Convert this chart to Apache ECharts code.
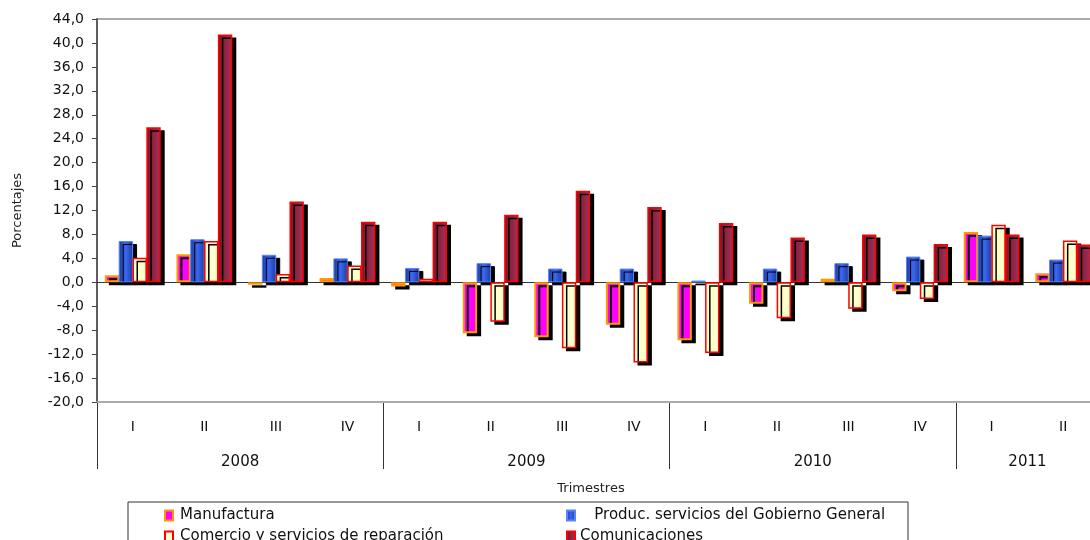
<!DOCTYPE html>
<html>
<head>
<meta charset="utf-8">
<script src="https://cdn.jsdelivr.net/npm/echarts@6/dist/echarts.min.js"></script>
<style>
  html, body { margin: 0; padding: 0; background: #fff; }
  #chart { width: 1090px; height: 540px; }
</style>
</head>
<body>
<div id="chart"></div>
<script>
// trimestres y años
const quarters = ['I', 'II', 'III', 'IV', 'I', 'II', 'III', 'IV', 'I', 'II', 'III', 'IV', 'I', 'II'];
const years = ['2008', '2009', '2010', '2011'];
const yearCenters = [2, 6, 10, 13];
const yearBounds = [0, 4, 8, 12];

// variaciones (%)
const manufactura = [1.2, 4.7, -0.4, 0.7, -0.7, -8.5, -9.2, -7.1, -9.7, -3.6, 0.6, -1.5, 8.4, 1.5];
const gobierno = [6.9, 7.2, 4.6, 4.0, 2.4, 3.2, 2.3, 2.3, 0.3, 2.3, 3.2, 4.3, 7.8, 3.8];
const comercio = [4.1, 6.9, 1.4, 2.8, 0.6, -6.6, -11.0, -13.4, -11.8, -6.0, -4.4, -2.8, 9.6, 7.0];
const comunicaciones = [25.9, 41.4, 13.5, 10.1, 10.1, 11.3, 15.3, 12.6, 9.9, 7.5, 8.0, 6.4, 8.0, 6.3];

const names = ['Manufactura', '   Produc. servicios del Gobierno General', 'Comercio y servicios de reparación', 'Comunicaciones'];

const FONT = 'DejaVu Sans';
const shadow = { shadowColor: '#000', shadowOffsetX: 4, shadowOffsetY: 3, shadowBlur: 0 };
const noShadow = { shadowBlur: 0, shadowOffsetX: 0, shadowOffsetY: 0, shadowColor: 'rgba(0,0,0,0)' };

const chart = echarts.init(document.getElementById('chart'));
chart.setOption({
  animation: false,
  backgroundColor: '#fff',
  textStyle: { fontFamily: FONT },
  grid: [
    { left: 97, top: 19, width: 1002, height: 383, outerBoundsMode: 'none', show: true, borderColor: '#aaa', borderWidth: 2 },
    { left: 97, top: 402, width: 1002, height: 1, outerBoundsMode: 'none' }
  ],
  xAxis: [
    {
      type: 'category', gridIndex: 0, data: quarters, position: 'bottom',
      axisLine: { onZero: false, lineStyle: { color: '#aaa', width: 2 } },
      axisTick: { length: 36, lineStyle: { color: '#333' } },
      axisLabel: { margin: 18, fontSize: 14, color: '#111', fontFamily: FONT }
    },
    {
      type: 'category', gridIndex: 0, data: quarters, position: 'top',
      axisLine: { onZero: true, lineStyle: { color: '#333', width: 1 } },
      axisTick: { inside: true, length: 5, lineStyle: { color: '#333' } },
      axisLabel: { show: false }
    },
    {
      type: 'value', gridIndex: 1, min: 0, max: 14, position: 'bottom',
      axisLine: { show: false },
      splitLine: { show: false },
      axisTick: { show: true, customValues: yearBounds, length: 66, lineStyle: { color: '#333' } },
      axisLabel: {
        customValues: yearCenters, margin: 52, fontSize: 15, color: '#111', fontFamily: FONT,
        formatter: v => years[yearCenters.indexOf(v)]
      },
      name: 'Trimestres', nameLocation: 'middle', nameGap: 79,
      nameTextStyle: { fontSize: 13, color: '#222', fontFamily: FONT, padding: [0, 14, 0, 0] }
    }
  ],
  yAxis: [
    {
      type: 'value', gridIndex: 0, min: -20, max: 44, interval: 4,
      axisLine: { show: true, lineStyle: { color: '#444', width: 1.5 } },
      axisTick: { show: true, length: 5, lineStyle: { color: '#444' } },
      splitLine: { show: false },
      axisLabel: { margin: 13, fontSize: 14, color: '#111', fontFamily: FONT, formatter: v => v.toFixed(1).replace('.', ',') },
      name: 'Porcentajes', nameLocation: 'middle', nameRotate: 90, nameGap: 73,
      nameTextStyle: { fontSize: 13, color: '#222', fontFamily: FONT }
    },
    { type: 'value', gridIndex: 1, show: false }
  ],
  legend: [
    {
      orient: 'vertical', left: 164, top: 508, height: 60, padding: 0, itemWidth: 8, itemHeight: 10, itemGap: 6,
      icon: 'rect', data: [names[0], names[2]],
      textStyle: { fontSize: 15, color: '#111', fontFamily: FONT, padding: [0, 0, 0, 2] },
      itemStyle: noShadow
    },
    {
      orient: 'vertical', left: 566, top: 508, height: 60, padding: 0, itemWidth: 8, itemHeight: 10, itemGap: 6,
      icon: 'rect', data: [names[1], names[3]],
      textStyle: { fontSize: 15, color: '#111', fontFamily: FONT },
      itemStyle: noShadow
    }
  ],
  graphic: [
    { type: 'rect', shape: { x: 128, y: 502, width: 780, height: 60 }, style: { fill: 'none', stroke: '#333', lineWidth: 1 }, silent: true }
  ],
  series: [
    {
      name: names[0], type: 'bar', data: manufactura, barCategoryGap: '22%', barGap: '-4%',
      itemStyle: Object.assign({ color: '#ff00ff', borderColor: '#ff9900', borderWidth: 2 }, shadow)
    },
    {
      name: names[1], type: 'bar', data: gobierno, barGap: '-4%',
      itemStyle: Object.assign({
        color: { type: 'linear', x: 0, y: 0, x2: 1, y2: 0, colorStops: [
          { offset: 0, color: '#1d3a92' }, { offset: 0.5, color: '#3a68f5' }, { offset: 1, color: '#1d3a92' }] },
        borderColor: '#5a84ff', borderWidth: 1
      }, shadow)
    },
    {
      name: names[2], type: 'bar', data: comercio, barGap: '-4%',
      itemStyle: Object.assign({ color: '#ffffcc', borderColor: '#ff0000', borderWidth: 1.5 }, shadow)
    },
    {
      name: names[3], type: 'bar', data: comunicaciones, barGap: '-4%',
      itemStyle: Object.assign({
        color: { type: 'linear', x: 0, y: 0, x2: 1, y2: 0, colorStops: [
          { offset: 0, color: '#7e1222' }, { offset: 1, color: '#a0345f' }] },
        borderColor: '#ff0000', borderWidth: 1.5
      }, shadow)
    }
  ]
});
</script>
</body>
</html>
